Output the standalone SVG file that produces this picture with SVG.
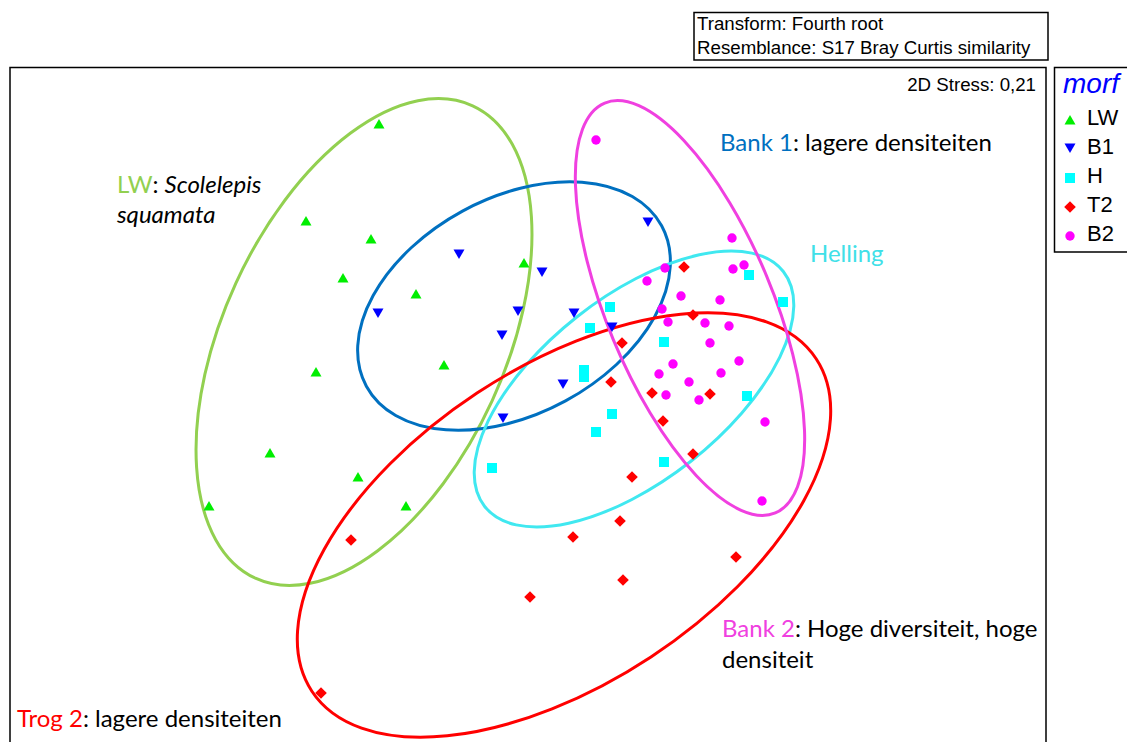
<svg xmlns="http://www.w3.org/2000/svg" xmlns:xlink="http://www.w3.org/1999/xlink" width="1127" height="742" viewBox="0 0 1127 742">
<style>
.frame{fill:none;stroke:#000;stroke-width:1.5}
.ell{fill:none;stroke-width:3}
.arial{font-family:"Liberation Sans",Arial,sans-serif;fill:#000}
.lab{font-family:Lato,"Open Sans",sans-serif;font-size:24px;fill:#000}
.lw{fill:#00ee00}.b1{fill:#0000ff}.h{fill:#00ffff}.t2{fill:#ff0000}.b2{fill:#ff00ff}
</style>
<defs>
<path id="tu" d="M0,-5 L5.5,4.5 L-5.5,4.5Z"/>
<path id="td" d="M0,5 L5.5,-4.5 L-5.5,-4.5Z"/>
<rect id="sq" x="-5" y="-5" width="10" height="10"/>
<path id="dm" d="M0,-5.8 L5.8,0 L0,5.8 L-5.8,0Z"/>
<circle id="ci" r="4.7"/>
</defs>
<rect width="1127" height="742" fill="#fff"/>
<g id="header">
<rect x="694" y="12.5" width="354" height="47.5" class="frame"/>
<text class="arial" x="697" y="30" font-size="18.7">Transform: Fourth root</text>
<text class="arial" x="697" y="54" font-size="18.7">Resemblance: S17 Bray Curtis similarity</text>
</g>
<g id="plot-frame">
<path d="M10,742 V67.5 H1046 V742" class="frame"/>
<text class="arial" x="1036" y="91" font-size="18.7" text-anchor="end">2D Stress: 0,21</text>
</g>
<g id="ellipses">
<ellipse class="ell" stroke="#92d050" cx="364" cy="342" rx="260" ry="141" transform="rotate(-65.3 364 342)"/>
<ellipse class="ell" stroke="#0070c0" cx="514" cy="306" rx="168" ry="108" transform="rotate(-28.5 514 306)"/>
<ellipse class="ell" stroke="#40e8f0" cx="634" cy="389" rx="190" ry="92" transform="rotate(-38.2 634 389)"/>
<ellipse class="ell" stroke="#ff0000" cx="564" cy="525" rx="302" ry="158" transform="rotate(-33.4 564 525)"/>
<ellipse class="ell" stroke="#f040e0" cx="690" cy="308" rx="222" ry="83" transform="rotate(67.4 690 308)"/>
</g>
<g id="series-LW" class="lw">
<use href="#tu" x="379" y="124"/><use href="#tu" x="306" y="221"/><use href="#tu" x="371" y="239"/>
<use href="#tu" x="343" y="278"/><use href="#tu" x="416" y="294"/><use href="#tu" x="524" y="263"/>
<use href="#tu" x="316" y="372"/><use href="#tu" x="444" y="365"/><use href="#tu" x="270" y="453"/>
<use href="#tu" x="358" y="477"/><use href="#tu" x="406" y="506"/><use href="#tu" x="209" y="506"/>
</g>
<g id="series-B1" class="b1">
<use href="#td" x="459" y="254"/><use href="#td" x="542" y="272"/><use href="#td" x="518" y="311"/>
<use href="#td" x="502" y="335"/><use href="#td" x="574" y="313"/><use href="#td" x="612" y="327"/>
<use href="#td" x="563" y="384"/><use href="#td" x="503" y="418"/><use href="#td" x="648" y="222"/>
<use href="#td" x="378" y="313"/>
</g>
<g id="series-H" class="h">
<use href="#sq" x="610" y="307"/><use href="#sq" x="590" y="328"/><use href="#sq" x="584" y="370"/>
<use href="#sq" x="584" y="377"/><use href="#sq" x="664" y="342"/><use href="#sq" x="749" y="275"/>
<use href="#sq" x="783" y="302"/><use href="#sq" x="747" y="396"/><use href="#sq" x="612" y="414"/>
<use href="#sq" x="596" y="432"/><use href="#sq" x="492" y="468"/><use href="#sq" x="664" y="462"/>
</g>
<g id="series-T2" class="t2">
<use href="#dm" x="684" y="267"/><use href="#dm" x="693" y="315"/><use href="#dm" x="622" y="343"/>
<use href="#dm" x="611" y="382"/><use href="#dm" x="652" y="393"/><use href="#dm" x="710" y="394"/>
<use href="#dm" x="663" y="421"/><use href="#dm" x="693" y="454"/><use href="#dm" x="632" y="477"/>
<use href="#dm" x="620" y="521"/><use href="#dm" x="573" y="537"/><use href="#dm" x="736" y="557"/>
<use href="#dm" x="623" y="580"/><use href="#dm" x="530" y="597"/><use href="#dm" x="321" y="693"/>
<use href="#dm" x="351" y="540"/>
</g>
<g id="series-B2" class="b2">
<use href="#ci" x="596" y="140"/><use href="#ci" x="732" y="238"/><use href="#ci" x="744" y="265"/>
<use href="#ci" x="733" y="269"/><use href="#ci" x="665" y="268"/><use href="#ci" x="647" y="281"/>
<use href="#ci" x="681" y="296"/><use href="#ci" x="720" y="300"/><use href="#ci" x="662" y="309"/>
<use href="#ci" x="668" y="322"/><use href="#ci" x="705" y="323"/><use href="#ci" x="729" y="326"/>
<use href="#ci" x="710" y="343"/><use href="#ci" x="739" y="361"/><use href="#ci" x="673" y="364"/>
<use href="#ci" x="659" y="374"/><use href="#ci" x="721" y="373"/><use href="#ci" x="689" y="382"/>
<use href="#ci" x="666" y="395"/><use href="#ci" x="699" y="400"/><use href="#ci" x="765" y="422"/>
<use href="#ci" x="762" y="501"/>
</g>
<g id="labels">
<text class="lab" x="117" y="193"><tspan fill="#92d050">LW</tspan>: <tspan font-style="italic">Scolelepis</tspan></text>
<text class="lab" x="117" y="223" font-style="italic">squamata</text>
<text class="lab" x="720" y="151"><tspan fill="#0070c0">Bank 1</tspan>: lagere densiteiten</text>
<text class="lab" x="810" y="262"><tspan fill="#40e0e8">Helling</tspan></text>
<text class="lab" x="722" y="637"><tspan fill="#f040e0">Bank 2</tspan>: Hoge diversiteit, hoge</text>
<text class="lab" x="722" y="668">densiteit</text>
<text class="lab" x="17" y="727"><tspan fill="#ff0000">Trog 2</tspan>: lagere densiteiten</text>
</g>
<g id="legend">
<path d="M1127,67.5 H1054.5 V252 H1127" class="frame"/>
<text x="1063" y="93" font-family="Liberation Sans,Arial,sans-serif" font-size="28" font-style="italic" fill="#0000ff">morf</text>
<use href="#tu" x="1070" y="120" class="lw"/>
<use href="#td" x="1070" y="148" class="b1"/>
<use href="#sq" x="1070" y="178" class="h"/>
<use href="#dm" x="1070" y="207" class="t2"/>
<use href="#ci" x="1070" y="236" class="b2"/>
<text class="arial" x="1087" y="125" font-size="22">LW</text>
<text class="arial" x="1087" y="154" font-size="22">B1</text>
<text class="arial" x="1087" y="183" font-size="22">H</text>
<text class="arial" x="1087" y="212" font-size="22">T2</text>
<text class="arial" x="1087" y="241" font-size="22">B2</text>
</g>
</svg>
